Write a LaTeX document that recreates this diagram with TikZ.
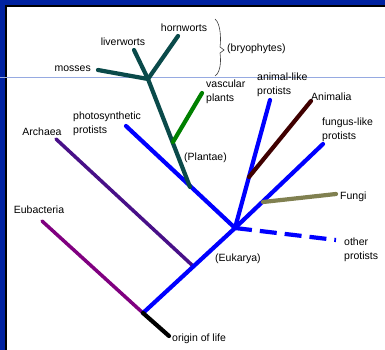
\documentclass[tikz,border=0pt]{standalone}
\usepackage{fontspec}
\setmainfont{Liberation Sans}
\begin{document}
\begin{tikzpicture}[x=1pt,y=-1pt,
  lbl/.style={inner sep=0pt,font=\fontsize{10.5}{13.5}\selectfont,align=left,text=black},
  br/.style={line width=4.2pt,line cap=round},
  bblue/.style={br,draw={rgb,255:red,0;green,0;blue,255}}]
\definecolor{frameblue}{RGB}{0,34,160}
\definecolor{sepline}{RGB}{150,170,225}
\definecolor{plantae}{RGB}{10,74,74}
\definecolor{vascgreen}{RGB}{0,128,0}
\definecolor{animbrown}{RGB}{64,0,0}
\definecolor{fungolive}{RGB}{128,128,80}
\definecolor{archpurple}{RGB}{72,16,136}
\definecolor{eubpurple}{RGB}{128,0,128}
\useasboundingbox (0,0) rectangle (385,350);
\fill[white] (0,0) rectangle (385,350);
% frame
\fill[frameblue] (0,0) rectangle (385,5);
\fill[frameblue] (0,0) rectangle (5,350);
\fill[black] (5,5) rectangle (385,7);
\fill[black] (5,5) rectangle (7,350);
\draw[sepline,line width=0.8pt] (0,77) -- (385,77);
% coordinates
\coordinate (olife) at (169,336);
\coordinate (root) at (143,313);
\coordinate (eub) at (42,221);
\coordinate (arch) at (56,139);
\coordinate (archj) at (193,266);
\coordinate (euk) at (235,228);
\coordinate (photo) at (126,126);
\coordinate (plj) at (190,187);
\coordinate (vascj) at (173,142);
\coordinate (vasct) at (202,93);
\coordinate (bryj) at (148,79);
\coordinate (moss) at (98,70);
\coordinate (liver) at (134,50);
\coordinate (horn) at (178,36);
\coordinate (anp) at (270,100);
\coordinate (anij) at (249,177);
\coordinate (ani) at (311,101);
\coordinate (fungp) at (323,144);
\coordinate (fungj) at (263,202);
\coordinate (fungi) at (336,194);
\coordinate (oth) at (336,240);
% branches
\draw[br,draw=eubpurple,line width=3.5pt] (eub) -- (root);
\draw[br,draw=archpurple,line width=3.5pt] (arch) -- (archj);
\draw[bblue] (root) -- (euk);
\draw[bblue] (photo) -- (euk);
\draw[bblue] (anp) -- (euk);
\draw[bblue] (fungp) -- (euk);
\draw[bblue,line cap=butt,dash pattern=on 17pt off 8pt] (euk) -- (oth);
\draw[br,draw=fungolive] (fungj) -- (fungi);
\draw[br,draw=animbrown] (anij) -- (ani);
\draw[br,draw=plantae] (plj) -- (bryj);
\draw[br,draw=plantae] (bryj) -- (moss);
\draw[br,draw=plantae] (bryj) -- (liver);
\draw[br,draw=plantae] (bryj) -- (horn);
\draw[br,draw=vascgreen] (vascj) -- (vasct);
\draw[br,draw=black] (root) -- (olife);
% brace
\draw[black!75,line width=0.6pt] (215,19) .. controls (221,24) and (221,40) .. (220,47)
  -- (224,50) -- (220,53) .. controls (221,60) and (221,72) .. (215,76);
% labels
\node[lbl,anchor=west] (lolife) at (172,339) {origin of life};
\node[lbl] (leub) at (39,210) {Eubacteria};
\node[lbl] (larch) at (42,132) {Archaea};
\node[lbl,anchor=west] (lphoto) at (73,124) {photosynthetic\\protists};
\node[lbl,anchor=west] (lvasc) at (206,92) {vascular\\plants};
\node[lbl,anchor=west] (lplant) at (184,158) {(Plantae)};
\node[lbl,anchor=east] (lmoss) at (91,69) {mosses};
\node[lbl] (lliver) at (123,42) {liverworts};
\node[lbl] (lhorn) at (184,28) {hornworts};
\node[lbl,anchor=west] (lbryo) at (227,49) {(bryophytes)};
\node[lbl,anchor=west] (lanp) at (257,85) {animal-like\\protists};
\node[lbl,anchor=west] (lani) at (311,97) {Animalia};
\node[lbl,anchor=west] (lfungp) at (322,130) {fungus-like\\protists};
\node[lbl,anchor=west] (lfungi) at (340,197) {Fungi};
\node[lbl,anchor=west] (loth) at (344,250) {other\\protists};
\node[lbl,anchor=west] (leuk) at (215,259) {(Eukarya)};
\end{tikzpicture}
\end{document}
